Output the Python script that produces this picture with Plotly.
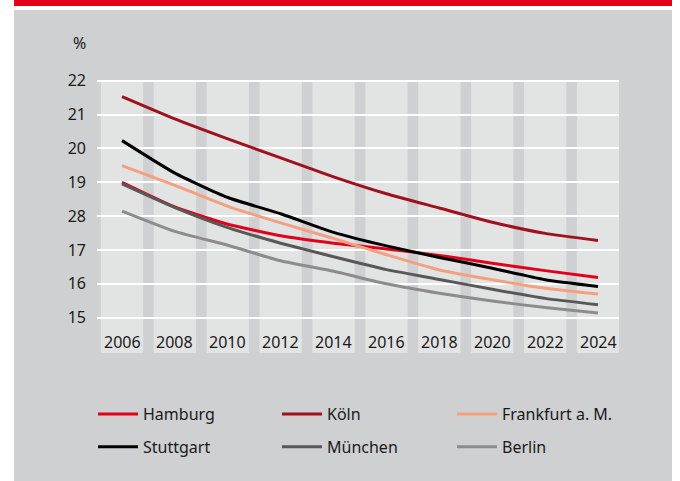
import plotly.graph_objects as go

years = [2006, 2008, 2010, 2012, 2014, 2016, 2018, 2020, 2022, 2024]
hamburg   = [19.00, 18.27, 17.76, 17.42, 17.20, 17.03, 16.84, 16.61, 16.39, 16.19]
koeln     = [21.53, 20.87, 20.28, 19.72, 19.16, 18.66, 18.24, 17.82, 17.49, 17.28]
frankfurt = [19.49, 18.91, 18.29, 17.80, 17.34, 16.86, 16.41, 16.12, 15.87, 15.70]
stuttgart = [20.23, 19.27, 18.55, 18.07, 17.52, 17.12, 16.78, 16.46, 16.12, 15.92]
muenchen  = [18.95, 18.25, 17.66, 17.20, 16.80, 16.42, 16.13, 15.84, 15.57, 15.38]
berlin    = [18.15, 17.55, 17.14, 16.68, 16.37, 16.00, 15.72, 15.49, 15.30, 15.14]

y_tickvals = [15, 16, 17, 18, 19, 20, 21, 22]
y_ticktext = ["15", "16", "17", "28", "19", "20", "21", "22"]

series = [
    ("Hamburg", hamburg, "#e2001a", "legend"),
    ("Köln", koeln, "#a0111f", "legend"),
    ("Frankfurt a. M.", frankfurt, "#f4a080", "legend"),
    ("Stuttgart", stuttgart, "#000000", "legend2"),
    ("München", muenchen, "#585858", "legend2"),
    ("Berlin", berlin, "#8c8c8c", "legend2"),
]
legend_widths = [129, 120, 120, 129, 120, 120]

W, H = 680, 481
ML, MR, MT, MB = 97, 61, 79, 128
PW, PH = W - ML - MR, H - MT - MB

def px(xp):
    return (xp - ML) / PW

def py(yp):
    return (H - MB - yp) / PH

FONT = "Noto Sans, Open Sans, sans-serif"
TXT = "#1a1a1a"

fig = go.Figure()
for (name, vals, col, lg), lw in zip(series, legend_widths):
    fig.add_trace(go.Scatter(
        x=years, y=vals, name=name, mode="lines",
        line=dict(color=col, width=3, shape="spline", smoothing=0.5),
        legend=lg, legendwidth=lw, hoverinfo="skip",
    ))

shapes = [
    # red bar on top
    dict(type="rect", xref="paper", yref="paper", x0=px(14), x1=px(672), y0=py(6), y1=py(0),
         fillcolor="#e2001a", line=dict(width=0), layer="below"),
    # grey panel
    dict(type="rect", xref="paper", yref="paper", x0=px(14), x1=px(672), y0=py(481), y1=py(10),
         fillcolor="#cfd0d2", line=dict(width=0), layer="below"),
]
for yr in years:
    shapes.append(dict(type="rect", xref="x", yref="y", x0=yr - 0.8, x1=yr + 0.8,
                       y0=13.9, y1=22, fillcolor="#e2e3e3", line=dict(width=0), layer="below"))

annotations = [dict(text="%", xref="paper", yref="paper", x=px(79.5), y=py(43),
                    showarrow=False, font=dict(family=FONT, size=16, color=TXT),
                    xanchor="center", yanchor="middle")]
for yr in years:
    annotations.append(dict(text=str(yr), xref="x", yref="y", x=yr, y=14.28,
                            showarrow=False, font=dict(family=FONT, size=16, color=TXT),
                            xanchor="center", yanchor="middle"))

leg_common = dict(orientation="h", xanchor="left", yanchor="top", x=px(93),
                  bgcolor="rgba(0,0,0,0)", borderwidth=0, itemwidth=40,
                  font=dict(family=FONT, size=16, color=TXT), traceorder="normal",
                  entrywidthmode="pixels", itemclick=False, itemdoubleclick=False)

fig.update_layout(
    width=W, height=H,
    margin=dict(l=ML, r=MR, t=MT, b=MB, pad=0, autoexpand=False),
    paper_bgcolor="#ffffff",
    plot_bgcolor="rgba(0,0,0,0)",
    font=dict(family=FONT, size=16, color=TXT),
    showlegend=True,
    legend=dict(**leg_common, y=py(397)),
    legend2=dict(**leg_common, y=py(429.8)),
    xaxis=dict(range=[2005.054, 2024.794], showgrid=False, zeroline=False,
               showticklabels=False, ticks="", showline=False, fixedrange=True),
    yaxis=dict(range=[13.957, 22.05], tickvals=y_tickvals, ticktext=y_ticktext,
               showgrid=True, gridcolor="#ffffff", gridwidth=2, zeroline=False,
               ticks="", showline=False, ticklabelstandoff=10,
               tickfont=dict(family=FONT, size=16, color=TXT), fixedrange=True),
    shapes=shapes,
    annotations=annotations,
)

fig.write_html("out.html", config={"displayModeBar": False},
               post_script="document.body.style.margin='0';document.body.style.overflow='hidden';")
